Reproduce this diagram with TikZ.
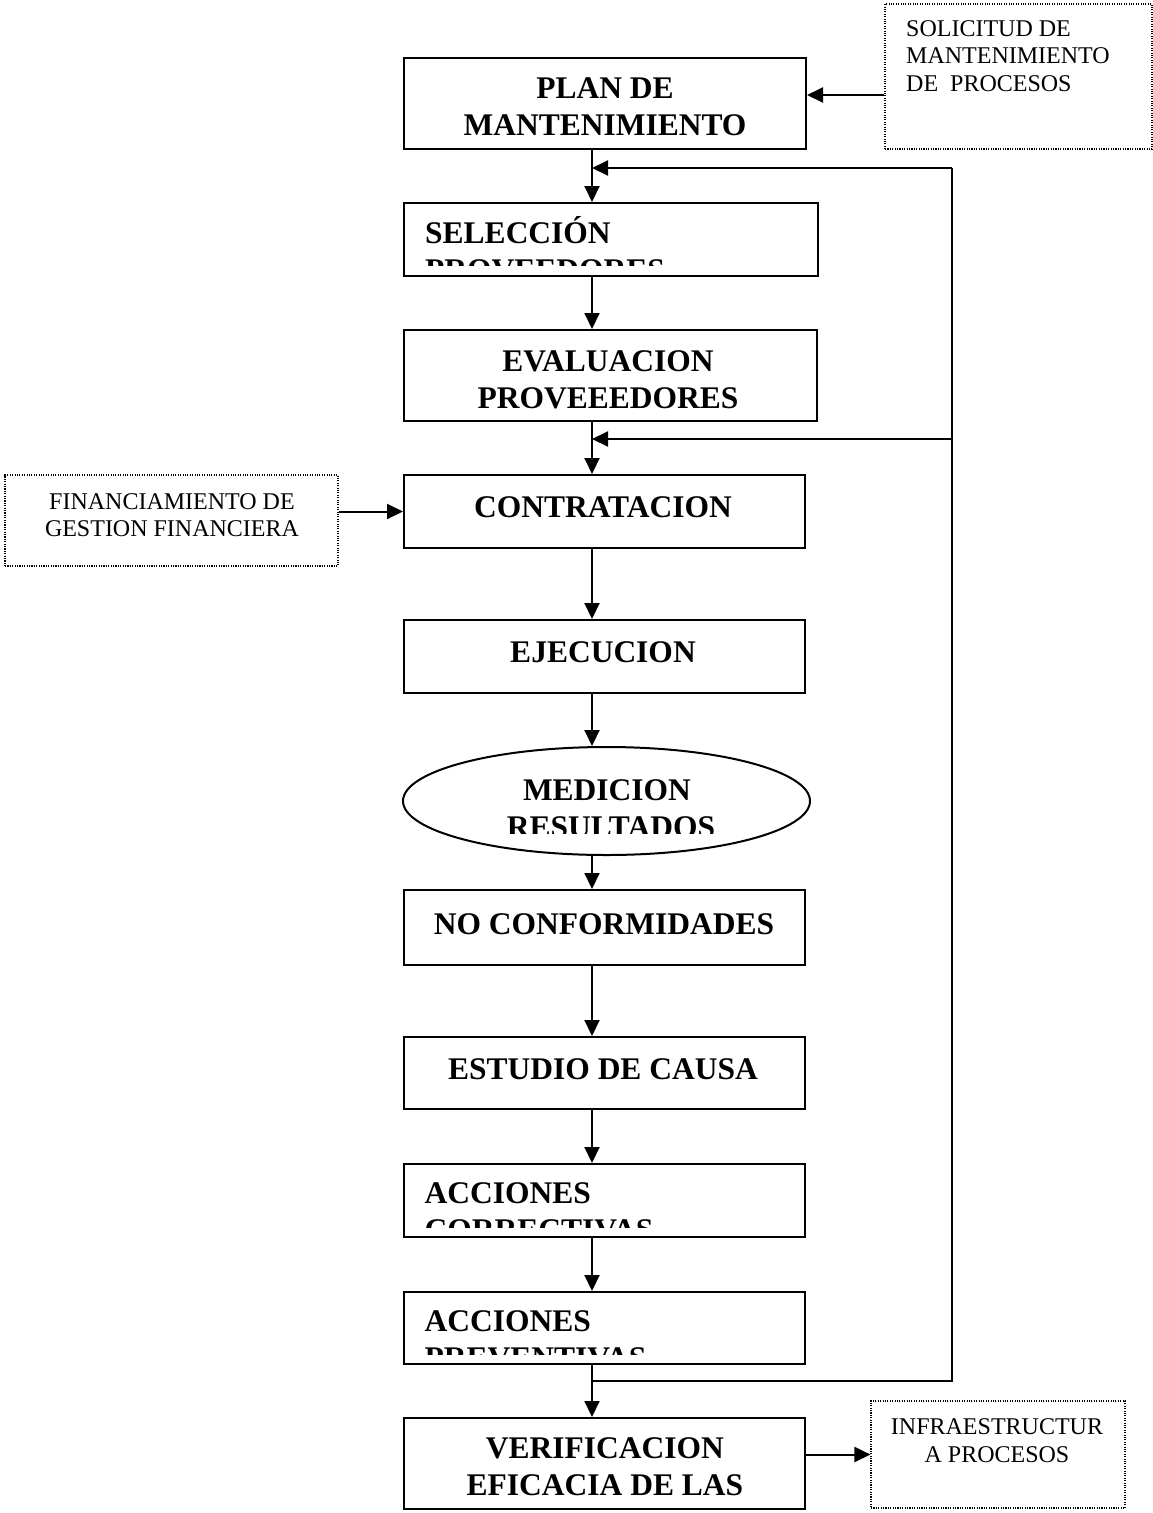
\documentclass[tikz,border=0pt]{standalone}
\usepackage{fontspec}
\setmainfont{Liberation Serif}
\usetikzlibrary{arrows.meta,shapes.geometric}
\tikzset{
  box/.style={draw, line width=2pt, rectangle, inner sep=0pt},
  dbox/.style={draw, line width=1.1pt, dash pattern=on 1.1pt off 1.3pt, rectangle, inner sep=0pt},
  ebox/.style={draw, line width=2pt, ellipse, inner sep=0pt},
  btxt/.style={font=\fontsize{31.5}{37}\selectfont\bfseries, align=center, inner sep=0pt},
  rtxt/.style={font=\fontsize{24}{27.5}\selectfont, inner sep=0pt},
  conn/.style={line width=2pt},
  arr/.style={line width=2pt, -{Triangle[length=16pt, width=15pt]}},
}
\begin{document}
\begin{tikzpicture}[x=1pt, y=-1pt]
\useasboundingbox (0,0) rectangle (1153,1513);
% boxes
\node[box, minimum width=402pt, minimum height=91pt] (plan) at (605,103.5) {};
\node[box, minimum width=414pt, minimum height=73pt] (sel) at (611,239.5) {};
\node[box, minimum width=413pt, minimum height=91pt] (eval) at (610.5,375.5) {};
\node[box, minimum width=401pt, minimum height=73pt] (contr) at (604.5,511.5) {};
\node[box, minimum width=401pt, minimum height=73pt] (ejec) at (604.5,656.5) {};
\node[ebox, minimum width=407pt, minimum height=108pt] (med) at (606.5,801) {};
\node[box, minimum width=401pt, minimum height=75pt] (noconf) at (604.5,927.5) {};
\node[box, minimum width=401pt, minimum height=72pt] (estud) at (604.5,1073) {};
\node[box, minimum width=401pt, minimum height=73pt] (acc1) at (604.5,1200.5) {};
\node[box, minimum width=401pt, minimum height=72pt] (acc2) at (604.5,1328) {};
\node[box, minimum width=401pt, minimum height=91pt] (verif) at (604.5,1463.5) {};
\node[dbox, minimum width=267pt, minimum height=145pt] (solic) at (1018.5,76.5) {};
\node[dbox, minimum width=333pt, minimum height=91pt] (finan) at (171.5,520.5) {};
\node[dbox, minimum width=254pt, minimum height=107pt] (infra) at (998,1454.5) {};

% texts
\node[btxt] (tplan) at (605,106.5) {PLAN DE\\MANTENIMIENTO};
\node[btxt, anchor=base west] (tsel1) at (425,243.3) {SELECCIÓN};
\begin{scope}
\clip (404,203) rectangle (818,265);
\node[btxt, anchor=base west] (tsel2) at (425,280.3) {PROVEEDORES};
\end{scope}
\node[btxt] (teval) at (608,380) {EVALUACION\\PROVEEEDORES};
\node[btxt] (tcontr) at (603,507) {CONTRATACION};
\node[btxt] (tejec) at (603,652) {EJECUCION};
\node[btxt, anchor=base] (tmed1) at (607,800.5) {MEDICION};
\begin{scope}
\clip (404,747) rectangle (810,833);
\node[btxt, anchor=base] (tmed2) at (611,837.5) {RESULTADOS};
\end{scope}
\node[btxt] (tnoconf) at (604,924) {NO CONFORMIDADES};
\node[btxt] (testud) at (603,1069.5) {ESTUDIO DE CAUSA};
\node[btxt, anchor=base west] (tacc1a) at (424.5,1203) {ACCIONES};
\begin{scope}
\clip (404,1164) rectangle (805,1227);
\node[btxt, anchor=base west] (tacc1b) at (424.5,1240) {CORRECTIVAS};
\end{scope}
\node[btxt, anchor=base west] (tacc2a) at (424.5,1331) {ACCIONES};
\begin{scope}
\clip (404,1292) rectangle (805,1354);
\node[btxt, anchor=base west] (tacc2b) at (424.5,1368) {PREVENTIVAS};
\end{scope}
\node[btxt] (tverif) at (605,1466.5) {VERIFICACION\\EFICACIA DE LAS};
\node[rtxt, align=left, anchor=west] (tsolic) at (906,56) {SOLICITUD DE\\MANTENIMIENTO\\DE\ \ PROCESOS};
\node[rtxt, align=center] (tfinan) at (172,515) {FINANCIAMIENTO DE\\GESTION FINANCIERA};
\node[rtxt, align=center] (tinfra) at (997,1440.5) {INFRAESTRUCTUR\\A PROCESOS};

% connectors
\coordinate (fx) at (592,0);
\coordinate (ys) at (0,95);
\draw[arr] (solic.west |- ys) -- (plan.east |- ys);
\draw[arr] (plan.south -| fx) -- (sel.north -| fx);
\draw[arr] (sel.south -| fx) -- (eval.north -| fx);
\draw[arr] (eval.south -| fx) -- (contr.north -| fx);
\draw[arr] (contr.south -| fx) -- (ejec.north -| fx);
\draw[arr] (ejec.south -| fx) -- (med.north -| fx);
\draw[arr] (med.south -| fx) -- (noconf.north -| fx);
\draw[arr] (noconf.south -| fx) -- (estud.north -| fx);
\draw[arr] (estud.south -| fx) -- (acc1.north -| fx);
\draw[arr] (acc1.south -| fx) -- (acc2.north -| fx);
\draw[arr] (acc2.south -| fx) -- (verif.north -| fx);
\draw[arr] (finan.east |- contr.west) -- (contr.west);
\draw[arr] (verif.east |- infra.west) -- (infra.west);

% feedback loop
\coordinate (fb1) at (592,1381);
\coordinate (fb2) at (952,1381);
\coordinate (fb3) at (952,168);
\coordinate (fb4) at (592,168);
\coordinate (fb5) at (952,439);
\coordinate (fb6) at (592,439);
\draw[conn] (fb1) -- (fb2) -- (fb3);
\draw[arr] (fb3) -- (fb4);
\draw[arr] (fb5) -- (fb6);
\end{tikzpicture}
\end{document}
